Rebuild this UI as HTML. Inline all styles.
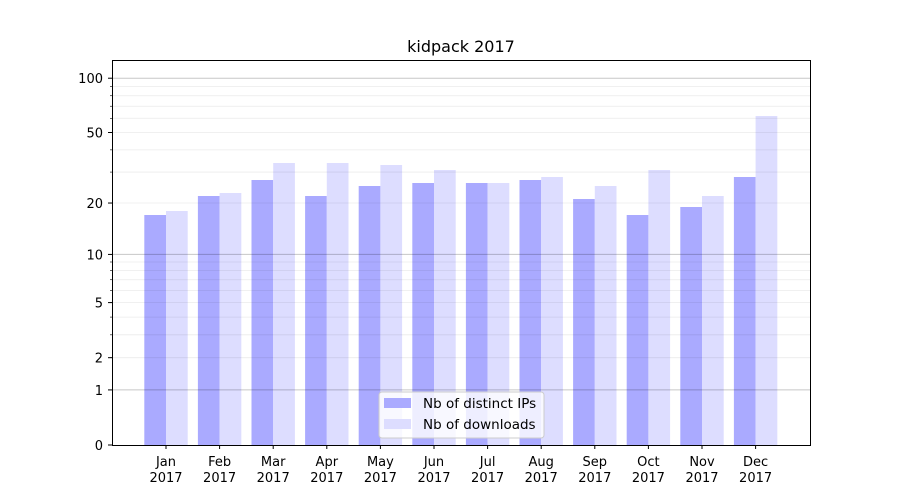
<!DOCTYPE html>
<html><head><meta charset="utf-8"><style>body{margin:0;background:#fff}svg{display:block;font-family:"DejaVu Sans","Liberation Sans",sans-serif}</style></head>
<body><svg id="s" width="900" height="500" xmlns="http://www.w3.org/2000/svg">
<rect width="900" height="500" fill="#fff"/>
<g id="g"></g>
<rect x="112.5" y="60.5" width="698" height="385" fill="none" stroke="#000" stroke-width="1"/>
<text x="461" y="52" font-size="16" text-anchor="middle">kidpack 2017</text>
<g>
<rect x="379" y="392" width="165" height="46" rx="3" fill="#fff" fill-opacity="0.8" stroke="#ccc"/>
<rect x="384" y="398" width="27" height="10" fill="#aaaaff"/>
<text x="423" y="408" font-size="13.5">Nb of distinct IPs</text>
<rect x="384" y="419" width="27" height="10" fill="#ddddff"/>
<text x="423" y="429" font-size="13.5">Nb of downloads</text>
</g>
</svg>
<script>
var g=document.getElementById('g'),h='';
function Y(v){return 445-183*Math.log10(1+v);}
var ip=[215,196,180,196,186,183,183,180,199,215,207,177];
var dl=[211,193,163,163,165,170,183,177,186,170,196,116];
var m=['Jan','Feb','Mar','Apr','May','Jun','Jul','Aug','Sep','Oct','Nov','Dec'];
for(var i=0;i<12;i++){var c=166+53.6*i;
h+='<rect x="'+(c-21.7)+'" y="'+ip[i]+'" width="21.7" height="'+(445-ip[i])+'" fill="#aaaaff"/>';
h+='<rect x="'+c+'" y="'+dl[i]+'" width="21.7" height="'+(445-dl[i])+'" fill="#ddddff"/>';
h+='<line x1="'+c+'" x2="'+c+'" y1="445" y2="449" stroke="#000"/>';
h+='<text x="'+c+'" y="466" font-size="13" text-anchor="middle">'+m[i]+'</text><text x="'+c+'" y="482" font-size="13" text-anchor="middle">2017</text>';}
var minors=[2,3,4,5,6,7,8,9,20,30,40,50,60,70,80,90];
minors.forEach(function(v){var y=Y(v);h+='<line x1="112" x2="810" y1="'+y+'" y2="'+y+'" stroke="rgba(0,0,0,0.08)" stroke-width="0.8"/>';h+='<line x1="112" x2="110" y1="'+y+'" y2="'+y+'" stroke="#000" stroke-width="0.6"/>';});
[1,10,100].forEach(function(v){var y=Y(v);h+='<line x1="112" x2="810" y1="'+y+'" y2="'+y+'" stroke="rgba(0,0,0,0.22)" stroke-width="1"/>';});
[0,1,2,5,10,20,50,100].forEach(function(v){var y=Y(v);h+='<line x1="112" x2="108" y1="'+y+'" y2="'+y+'" stroke="#000"/><text x="103" y="'+(y+5)+'" font-size="13" text-anchor="end">'+v+'</text>';});
g.innerHTML=h;
</script>
</body></html>
